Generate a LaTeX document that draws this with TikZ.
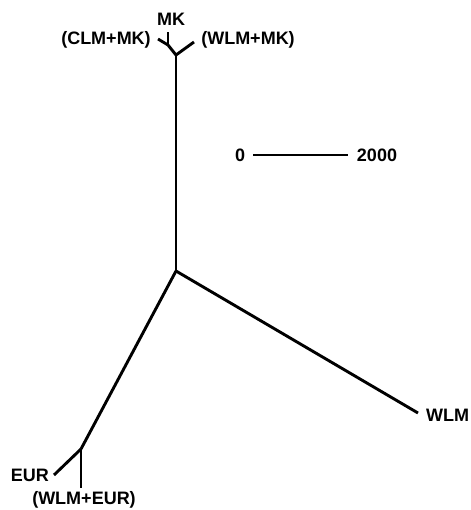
\documentclass[tikz,border=0pt]{standalone}
\usepackage{fontspec}
\setmainfont{Liberation Sans}
\begin{document}
\begin{tikzpicture}[x=1pt,y=-1pt,
  branch/.style={line width=2.9pt,line cap=butt,line join=miter},
  lbl/.style={font=\fontsize{18}{19}\selectfont\bfseries,inner sep=0pt}]
\useasboundingbox (0,0) rectangle (470,510);
% inner vertices and tips of the tree
\coordinate (C) at (176,271);
\coordinate (J1) at (176,55);
\coordinate (Ja) at (168,45);
\coordinate (tMK) at (168,32);
\coordinate (tCLMMK) at (158,39);
\coordinate (tWLMMK) at (194,42);
\coordinate (tWLM) at (418,413);
\coordinate (J2) at (81,449);
\coordinate (tEUR) at (54,475);
\coordinate (tWLMEUR) at (81,488);
% branches
\draw[branch] (C) -- (J1);
\draw[branch] (J1) -- (Ja);
\draw[branch] (Ja) -- (tCLMMK);
\draw[branch] (Ja) -- (tMK);
\draw[branch] (J1) -- (tWLMMK);
\draw[branch] (C) -- (tWLM);
\draw[branch] (C) -- (J2);
\draw[branch] (J2) -- (tEUR);
\draw[branch] (J2) -- (tWLMEUR);
% leaf labels
\node[lbl] (lMK) at (171,19) {MK};
\node[lbl] (lCLMMK) at (106,40) {(CLM+MK)};
\node[lbl] (lWLMMK) at (248,40) {(WLM+MK)};
\node[lbl,anchor=west] (lWLM) at (426,415) {WLM};
\node[lbl,anchor=east] (lEUR) at (49,475) {EUR};
\node[lbl] (lWLMEUR) at (84,500) {(WLM+EUR)};
% scale bar
\node[lbl] (s0) at (240,155) {0};
\node[lbl] (s2000) at (377,155) {2000};
\coordinate (sa) at (253,155);
\coordinate (sb) at (348,155);
\draw[line width=2.4pt] (sa) -- (sb);
\end{tikzpicture}
\end{document}
